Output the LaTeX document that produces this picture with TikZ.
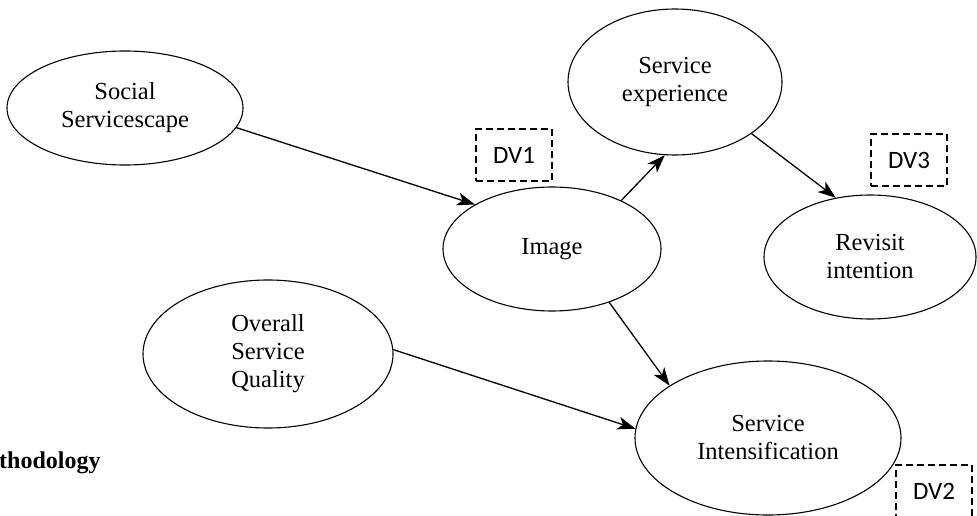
\documentclass[tikz,border=0pt]{standalone}
\usepackage{fontspec}
\setmainfont{Liberation Serif}
\newfontfamily\dvfont{Carlito}
\usetikzlibrary{shapes.geometric,arrows.meta}
\begin{document}
\begin{tikzpicture}[x=1pt,y=-1pt,
  construct/.style={draw=black,line width=1.1pt,ellipse,inner sep=0pt,align=center,
    font=\fontsize{24.5}{28}\selectfont},
  dvbox/.style={draw=black,line width=1.1pt,dash pattern=on 7pt off 4pt,
    minimum width=76pt,minimum height=52pt,inner sep=0pt,font=\dvfont\fontsize{25}{28}\selectfont},
  link/.style={line width=1.3pt,-{Stealth[length=18pt,width=13pt,inset=5pt]}}]
\useasboundingbox (0,0) rectangle (977,516);
\clip (0,0) rectangle (977,516);
\node[construct,minimum width=236pt,minimum height=114pt] (soc) at (125,108) {Social\\Servicescape};
\node[construct,minimum width=214pt,minimum height=146pt] (exp) at (675,82) {Service\\experience};
\node[construct,minimum width=218pt,minimum height=124pt] (img) at (552,249) {Image};
\node[construct,minimum width=212pt,minimum height=124pt] (rev) at (870,257) {Revisit\\intention};
\node[construct,minimum width=250pt,minimum height=148pt] (osq) at (268,354) {Overall\\Service\\Quality};
\node[construct,minimum width=266pt,minimum height=154pt] (int) at (768,438) {Service\\Intensification};
\node[dvbox] (dv1) at (514,155) {DV1};
\node[dvbox] (dv3) at (909,160) {DV3};
\node[dvbox] (dv2) at (934,491) {DV2};
\node[anchor=base west,inner sep=0pt,font=\bfseries\fontsize{24}{28}\selectfont] (meth) at (-1,468) {thodology};
\draw[link] (soc.350) -- (img.150);
\draw[link] (img.35) -- (exp.262);
\draw[link] (exp.326) -- (rev.120);
\draw[link] (img.317) -- (int.152);
\draw[link] (osq.2) -- (int.176);
\end{tikzpicture}
\end{document}
